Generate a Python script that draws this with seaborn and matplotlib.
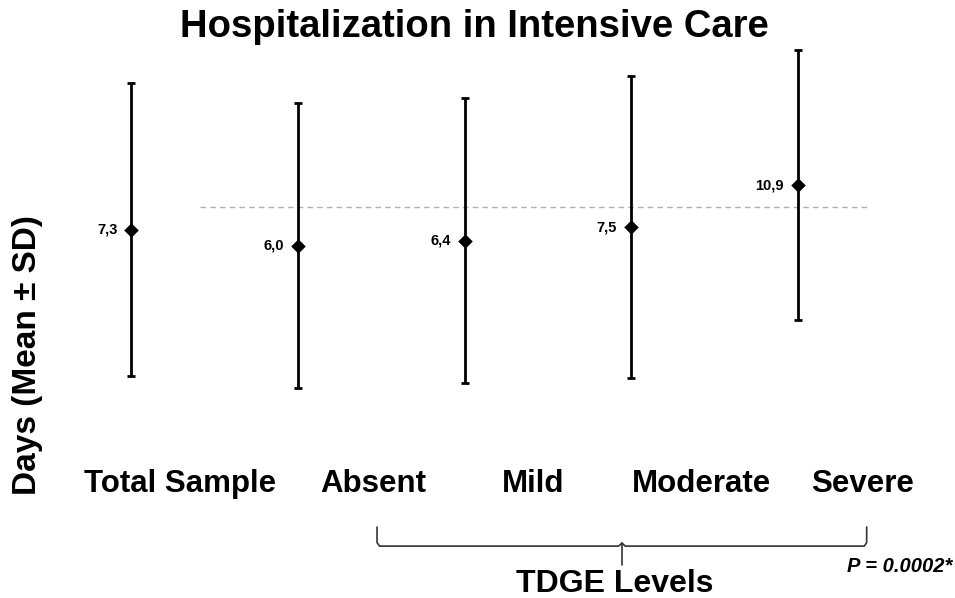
import numpy as np
import pandas as pd
import matplotlib
matplotlib.use('Agg')
import matplotlib.pyplot as plt
import matplotlib.transforms as mtransforms
import seaborn as sns

# Values
groups = ['Total Sample', 'Absent', 'Mild', 'Moderate', 'Severe']
mean_days = [7.3, 6.0, 6.4, 7.5, 10.9]
sd_days = [11.8, 11.5, 11.5, 12.2, 10.9]
value_labels = ['7,3', '6,0', '6,4', '7,5', '10,9']
reference_line = 9.1
p_text = 'P = 0.0002*'

# group names sit to the right of their bars in the original
label_shift = [0.29, 0.45, 0.41, 0.42, 0.39]

df = pd.DataFrame({'group': groups, 'mean': mean_days, 'sd': sd_days})

sns.set_style('white')
plt.rcParams['font.family'] = ['Liberation Sans', 'DejaVu Sans']
plt.rcParams['font.weight'] = 'bold'
plt.rcParams['text.color'] = 'black'

fig = plt.figure(figsize=(9.55, 5.98), dpi=100)
ax = fig.add_axes([48 / 955, 1 - 444 / 598, 833 / 955, 408.9 / 598])

# error bars (mean +- SD)
ax.errorbar(np.arange(len(groups)), df['mean'], yerr=df['sd'], fmt='none',
            ecolor='black', elinewidth=2.0, capsize=3, capthick=2.0, zorder=2)

# dashed reference line
ax.hlines(reference_line, 0.41, 4.42, colors='#b0b0b0', linestyles=(0, (4, 3)),
          linewidth=1.0, zorder=1)

sns.scatterplot(data=df, x='group', y='mean', marker='D', s=55, color='black',
                edgecolor='black', linewidth=0, zorder=3, ax=ax, legend=False)

for i, (m, lab) in enumerate(zip(mean_days, value_labels)):
    ax.annotate(lab, (i, m), xytext=(-10, 0), textcoords='offset points',
                ha='right', va='center', fontsize=10.5, fontweight='bold',
                color='black')

ax.set_xlim(-0.5, 4.5)
ax.set_ylim(-10, 23)
ax.set_xlabel('')
ax.set_ylabel('')
ax.set_yticks([])
ax.set_xticks(range(len(groups)))
ax.set_xticklabels([])
ax.tick_params(axis='x', length=0)
sns.despine(ax=ax, left=True, bottom=True)

# group names under the bars
trans = mtransforms.blended_transform_factory(ax.transData, fig.transFigure)
for i, (g, dx) in enumerate(zip(groups, label_shift)):
    ax.text(i + dx, 1 - 492 / 598, g, transform=trans, ha='center', va='baseline',
            fontsize=22.5, fontweight='bold', color='black')

# curly brace under the TDGE levels
bx = [1.475, 1.475, 1.49, 2.925, 2.945, 2.965, 4.40, 4.414, 4.414]
by = [-16.7, -17.95, -18.24, -18.24, -18.0, -18.24, -18.24, -17.95, -16.7]
ax.plot(bx, by, color='#333333', linewidth=1.2, clip_on=False)
ax.plot([2.945, 2.945], [-18.0, -19.77], color='#333333', linewidth=1.2, clip_on=False)

fig.text(474 / 955, 1 - 36.7 / 598, 'Hospitalization in Intensive Care',
         ha='center', va='baseline', fontsize=27.5, fontweight='bold')
fig.text(28 / 955, 1 - 355 / 598, 'Days (Mean ± SD)', rotation=90,
         ha='center', va='center', fontsize=24, fontweight='bold')
fig.text(615 / 955, 1 - 591.5 / 598, 'TDGE Levels', ha='center', va='baseline',
         fontsize=23, fontweight='bold')
fig.text(952 / 955, 1 - 571.5 / 598, p_text, ha='right', va='baseline',
         fontsize=14.5, fontweight='bold', fontstyle='italic')

fig.savefig('out.png', dpi=100)
